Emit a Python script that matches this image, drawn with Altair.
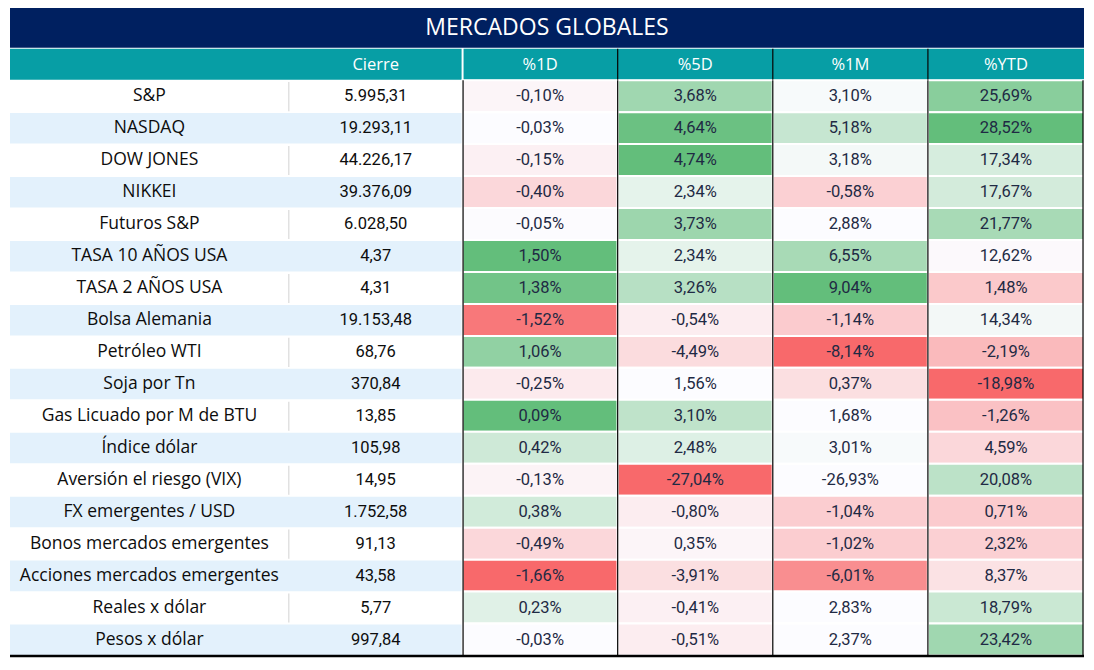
import altair as alt
import pandas as pd

# ---------------- data ----------------
labels = ["S&P", "NASDAQ", "DOW JONES", "NIKKEI", "Futuros S&P", "TASA 10 AÑOS USA",
          "TASA 2 AÑOS USA", "Bolsa Alemania", "Petróleo WTI", "Soja por Tn",
          "Gas Licuado por M de BTU", "Índice dólar", "Aversión el riesgo (VIX)",
          "FX emergentes / USD", "Bonos mercados emergentes", "Acciones mercados emergentes",
          "Reales x dólar", "Pesos x dólar"]
cierre = [5995.31, 19293.11, 44226.17, 39376.09, 6028.50, 4.37, 4.31, 19153.48, 68.76,
          370.84, 13.85, 105.98, 14.95, 1752.58, 91.13, 43.58, 5.77, 997.84]
pct_cols = ["%1D", "%5D", "%1M", "%YTD"]
p1d = [-0.10, -0.03, -0.15, -0.40, -0.05, 1.50, 1.38, -1.52, 1.06, -0.25, 0.09, 0.42,
       -0.13, 0.38, -0.49, -1.66, 0.23, -0.03]
p5d = [3.68, 4.64, 4.74, 2.34, 3.73, 2.34, 3.26, -0.54, -4.49, 1.56, 3.10, 2.48,
       -27.04, -0.80, 0.35, -3.91, -0.41, -0.51]
p1m = [3.10, 5.18, 3.18, -0.58, 2.88, 6.55, 9.04, -1.14, -8.14, 0.37, 1.68, 3.01,
       -26.93, -1.04, -1.02, -6.01, 2.83, 2.37]
pytd = [25.69, 28.52, 17.34, 17.67, 21.77, 12.62, 1.48, 14.34, -2.19, -18.98, -1.26, 4.59,
        20.08, 0.71, 2.32, 8.37, 18.79, 23.42]
# conditional-format shading score (-1 red .. 0 white .. 1 green)
h1d = [-0.05, 0.0, -0.08, -0.25, -0.01, 1.0, 0.9, -0.9, 0.7, -0.12, 1.0, 0.3,
       -0.06, 0.28, -0.25, -1.0, 0.18, 0.0]
h5d = [0.6, 0.95, 1.0, 0.15, 0.62, 0.15, 0.45, -0.1, -0.22, 0.0, 0.4, 0.2,
       -1.0, -0.1, -0.05, -0.2, -0.08, -0.1]
h1m = [0.03, 0.35, 0.05, -0.3, 0.0, 0.55, 1.0, -0.33, -1.0, -0.2, 0.0, 0.03,
       0.0, -0.32, -0.32, -0.75, 0.0, 0.0]
hytd = [0.75, 1.0, 0.25, 0.27, 0.55, -0.02, -0.35, 0.06, -0.45, -1.0, -0.4, -0.25,
        0.42, -0.33, -0.3, -0.18, 0.33, 0.6]
title_text = "MERCADOS GLOBALES"
cierre_head = "Cierre"

# ---------------- layout ----------------
NAVY, TEAL, ROWBLUE = "#002060", "#079ea5", "#e3f1fc"
col_edges = [0, 284, 461, 619, 777, 935, 1094]
ROW0, ROWH = 74.5, 33.0


def es_num(v):
    s = f"{v:,.2f}"
    return s.replace(",", "X").replace(".", ",").replace("X", ".")


def es_pct(v):
    return f"{v:.2f}%".replace(".", ",")


n = len(labels)
ry0 = [ROW0 + ROWH * i for i in range(n)]
ry1 = [ROW0 + ROWH * (i + 1) for i in range(n)]
ryc = [(a + b) / 2 for a, b in zip(ry0, ry1)]

bg = [dict(x=0, x2=1094, y=0, y2=41, fill=NAVY),
      dict(x=0, x2=460, y=42, y2=74, fill=TEAL)]
for j in range(4):
    bg.append(dict(x=col_edges[j + 2] + (1 if j == 0 else 0), x2=col_edges[j + 3], y=42, y2=74, fill=TEAL))
for i in range(n):
    bg.append(dict(x=0, x2=461, y=ry0[i] + 1, y2=ry1[i] - 0.5,
                   fill=ROWBLUE if i % 2 else "#ffffff"))
bg_df = pd.DataFrame(bg)

pvals = [p1d, p5d, p1m, pytd]
heats = [h1d, h5d, h1m, hytd]
cells = []
for j in range(4):
    for i in range(n):
        cells.append(dict(x=col_edges[j + 2], x2=col_edges[j + 3], y=ry0[i], y2=ry1[i],
                          xc=(col_edges[j + 2] + col_edges[j + 3]) / 2, yc=ryc[i],
                          t=es_pct(pvals[j][i]), heat=heats[j][i]))
cell_df = pd.DataFrame(cells)

lab_df = pd.DataFrame(dict(x=[142] * n, y=ryc, t=labels))
cie_df = pd.DataFrame(dict(x=[372.5] * n, y=ryc, t=[es_num(v) for v in cierre]))
head_df = pd.DataFrame(dict(
    x=[372.5] + [(col_edges[j + 2] + col_edges[j + 3]) / 2 for j in range(4)],
    y=[58.5] * 5, t=[cierre_head] + pct_cols))
title_df = pd.DataFrame(dict(x=[547], y=[20.5], t=[title_text]))

vrules = []
for xe in [461.5, 619, 777, 935, 1093]:
    vrules.append(dict(x=xe, y=ROW0, y2=ry1[-1], c="#000000"))
for xe in [619, 777, 935]:
    vrules.append(dict(x=xe, y=42, y2=74, c="#000000"))
for i in range(0, n, 2):
    vrules.append(dict(x=284, y=ry0[i] + 2, y2=ry1[i] - 1, c="#d9d9d9"))
vr_df = pd.DataFrame(vrules)
bottom_df = pd.DataFrame(dict(x=[0], x2=[1094], y=[669]))

xs = alt.Scale(domain=[0, 1094], nice=False, zero=False)
ys = alt.Scale(domain=[0, 670], nice=False, zero=False, reverse=True)
X = lambda f: alt.X(f, type="quantitative", scale=xs, axis=None)
Y = lambda f: alt.Y(f, type="quantitative", scale=ys, axis=None)

bg_layer = alt.Chart(bg_df).mark_rect().encode(
    x=X("x"), x2="x2", y=Y("y"), y2="y2", color=alt.Color("fill:N", scale=None))

heat_layer = alt.Chart(cell_df).mark_rect(stroke="white", strokeWidth=2).encode(
    x=X("x"), x2="x2", y=Y("y"), y2="y2",
    color=alt.Color("heat:Q", legend=None,
                    scale=alt.Scale(domain=[-1, 0, 1],
                                    range=["#F8696B", "#FCFCFF", "#63BE7B"],
                                    interpolate="rgb")))

rule_layer = alt.Chart(vr_df).mark_rule(strokeWidth=1.2).encode(
    x=X("x"), y=Y("y"), y2="y2", color=alt.Color("c:N", scale=None))
bottom_layer = alt.Chart(bottom_df).mark_rule(strokeWidth=2.5, color="#000000").encode(
    x=X("x"), x2="x2", y=Y("y"))

pct_text = alt.Chart(cell_df).mark_text(font="Roboto", fontSize=16.5, color="#1f2a44",
                                        baseline="middle", align="center").encode(
    x=X("xc"), y=Y("yc"), text="t:N")
lab_text = alt.Chart(lab_df).mark_text(font="Open Sans", fontSize=17.5, color="#0d0d0d",
                                       baseline="middle", align="center").encode(
    x=X("x"), y=Y("y"), text="t:N")
cie_text = alt.Chart(cie_df).mark_text(font="Roboto", fontSize=16.5, color="#0d0d0d",
                                       baseline="middle", align="center").encode(
    x=X("x"), y=Y("y"), text="t:N")
head_text = alt.Chart(head_df).mark_text(font="Open Sans", fontSize=16.5, color="white",
                                         baseline="middle", align="center").encode(
    x=X("x"), y=Y("y"), text="t:N")
title_layer = alt.Chart(title_df).mark_text(font="Open Sans", fontSize=23, color="white",
                                            baseline="middle", align="center").encode(
    x=X("x"), y=Y("y"), text="t:N")

chart = alt.layer(bg_layer, heat_layer, rule_layer, bottom_layer, pct_text, lab_text,
                  cie_text, head_text, title_layer).properties(
    width=1078, height=650, padding=0,
    autosize=alt.AutoSizeParams(type="fit", contains="padding"),
    background="white",
).configure_view(stroke=None)

chart.save("out.html", embed_options={"renderer": "svg", "actions": False})
